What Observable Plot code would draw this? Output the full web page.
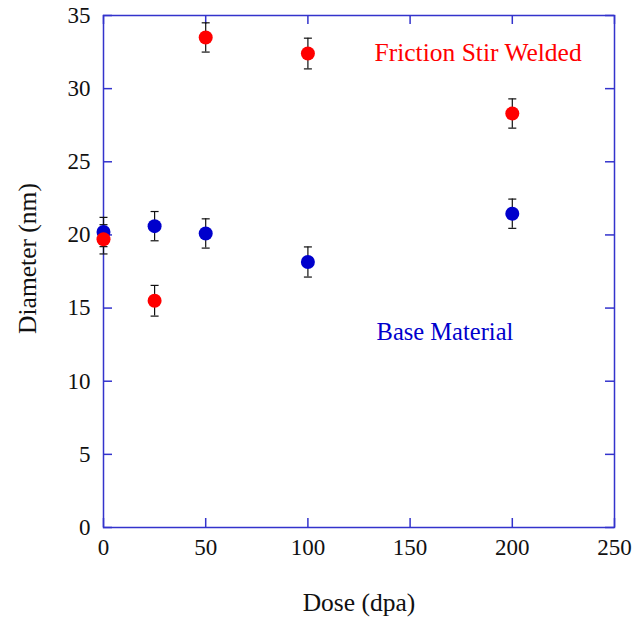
<!DOCTYPE html>
<html>
<head>
<meta charset="utf-8">
<script src="https://cdn.jsdelivr.net/npm/d3@7"></script>
<script src="https://cdn.jsdelivr.net/npm/@observablehq/plot@0.6"></script>
<style>
  html, body { margin: 0; padding: 0; background: #fff; }
  #chart svg { display: block; }
</style>
</head>
<body>
<div id="chart"></div>
<script>
// Data
const doses = [0, 25, 50, 100, 200];
const fswDiameter = [19.7, 15.5, 33.5, 32.4, 28.3];
const fswError = [1.0, 1.05, 1.0, 1.05, 1.0];
const baseDiameter = [20.2, 20.6, 20.1, 18.15, 21.45];
const baseError = [1.0, 1.0, 1.0, 1.03, 1.0];
const xTicks = [0, 50, 100, 150, 200, 250];
const yTicks = [0, 5, 10, 15, 20, 25, 30, 35];
const seriesLabels = ["Friction Stir Welded", "Base Material"];
const labelPos = [{x: 132.6, y: 32.45}, {x: 133.6, y: 13.35}];

const fsw = doses.map((d, i) => ({dose: d, dia: fswDiameter[i], err: fswError[i], series: "fsw"}));
const base = doses.map((d, i) => ({dose: d, dia: baseDiameter[i], err: baseError[i], series: "base"}));
const all = base.concat(fsw);

const axisColor = "#3333cc";
const red = "#ff0000";
const blue = "#0000cc";
const font = "'Liberation Serif', 'Times New Roman', serif";

const W = 636, H = 619;
const mL = 103, mR = 22, mT = 15, mB = 92;
const fw = W - mL - mR, fh = H - mT - mB;
const tk = 9;

const capSymbol = {
  draw(ctx, size) {
    const w = 4;
    ctx.moveTo(-w, 0);
    ctx.lineTo(w, 0);
  }
};

const chart = Plot.plot({
  width: W,
  height: H,
  marginLeft: mL,
  marginRight: mR,
  marginTop: mT,
  marginBottom: mB,
  style: {fontFamily: font, background: "#fff"},
  x: {domain: [0, 250]},
  y: {domain: [0, 35]},
  marks: [
    // axes labels (no tick lines)
    Plot.axisX(xTicks, {tickSize: 0, tickPadding: 11, fontSize: 23, fill: "#111", label: null}),
    Plot.axisY(yTicks, {tickSize: 0, tickPadding: 13, fontSize: 23, fill: "#111", label: null}),
    Plot.text(["Dose (dpa)"], {frameAnchor: "bottom", dy: 83, fontSize: 25.5, fill: "#111"}),
    Plot.text(["Diameter (nm)"], {frameAnchor: "left", textAnchor: "middle", lineAnchor: "middle", dx: -76, dy: -13, rotate: -90, fontSize: 25.5, fill: "#111"}),
    // inward ticks on four sides
    Plot.tickX(xTicks, {x: d => d, insetTop: fh - tk, stroke: axisColor, strokeWidth: 1.5}),
    Plot.tickX(xTicks, {x: d => d, insetBottom: fh - tk, stroke: axisColor, strokeWidth: 1.5}),
    Plot.tickY(yTicks, {y: d => d, insetRight: fw - tk, stroke: axisColor, strokeWidth: 1.5}),
    Plot.tickY(yTicks, {y: d => d, insetLeft: fw - tk, stroke: axisColor, strokeWidth: 1.5}),
    Plot.frame({stroke: axisColor, strokeWidth: 1.5}),
    // error bars
    Plot.ruleX(all, {x: "dose", y1: d => d.dia - d.err, y2: d => d.dia + d.err, stroke: "#111", strokeWidth: 1.2}),
    Plot.dot(all, {x: "dose", y: d => d.dia + d.err, symbol: capSymbol, stroke: "#111", fill: "none", strokeWidth: 1.2, r: 4}),
    Plot.dot(all, {x: "dose", y: d => d.dia - d.err, symbol: capSymbol, stroke: "#111", fill: "none", strokeWidth: 1.2, r: 4}),
    // points
    Plot.dot(base, {x: "dose", y: "dia", r: 7, fill: blue, stroke: "none"}),
    Plot.dot(fsw, {x: "dose", y: "dia", r: 7, fill: red, stroke: "none"}),
    // series labels
    Plot.text([0], {x: labelPos[0].x, y: labelPos[0].y, text: () => seriesLabels[0], textAnchor: "start", fontSize: 25.5, fill: red}),
    Plot.text([1], {x: labelPos[1].x, y: labelPos[1].y, text: () => seriesLabels[1], textAnchor: "start", fontSize: 24.5, fill: blue})
  ]
});

document.getElementById("chart").appendChild(chart);
</script>
</body>
</html>
